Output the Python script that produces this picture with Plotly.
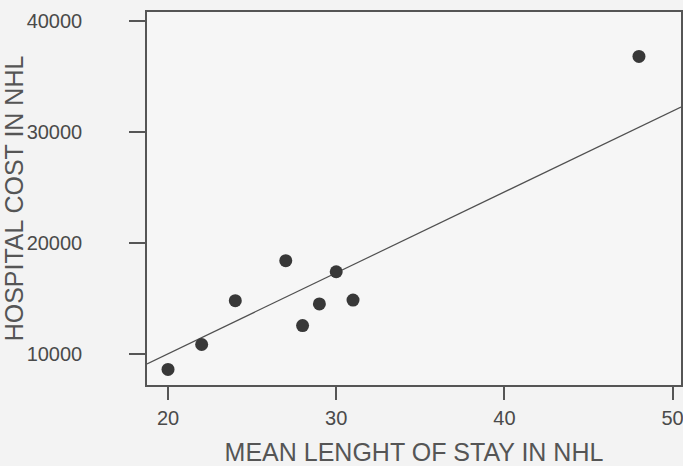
import plotly.graph_objects as go

# Data
stay_days = [20, 22, 24, 27, 28, 29, 30, 31, 48]
hospital_cost = [8600, 10850, 14800, 18400, 12550, 14500, 17400, 14850, 36800]

# Fitted regression line
line_intercept = -4569
line_slope = 729
x_range = [18.75, 50.5]
y_range = [7200, 40800]

x_ticks = [20, 30, 40, 50]
y_ticks = [10000, 20000, 30000, 40000]

fit_x = x_range
fit_y = [line_intercept + line_slope * v for v in fit_x]

font_family = "Liberation Sans, Arial, sans-serif"
ink = "#4a4a4a"

fig = go.Figure()
fig.add_trace(go.Scatter(
    x=fit_x, y=fit_y, mode="lines",
    line=dict(color="#505050", width=1.2),
    showlegend=False, hoverinfo="skip",
))
fig.add_trace(go.Scatter(
    x=stay_days, y=hospital_cost, mode="markers",
    marker=dict(symbol="circle", size=13, color="#383838"),
    showlegend=False,
))

fig.update_layout(
    width=683, height=466,
    margin=dict(l=147, r=2, t=12, b=81),
    paper_bgcolor="#f3f3f3",
    plot_bgcolor="#f6f6f6",
    font=dict(family=font_family, color=ink),
    xaxis=dict(
        range=x_range, tickvals=x_ticks, ticktext=[str(t) for t in x_ticks],
        automargin=False, ticklabeloverflow="allow",
        showgrid=False, zeroline=False,
        showline=True, mirror=True, linecolor="#555555", linewidth=1.5,
        ticks="outside", ticklen=13, tickcolor="#555555", tickwidth=1.5,
        tickfont=dict(size=20, color=ink), ticklabelstandoff=1,
        title=dict(text="MEAN LENGHT OF STAY IN NHL", font=dict(size=25, color="#555555"), standoff=19),
    ),
    yaxis=dict(
        range=y_range, tickvals=y_ticks, ticktext=[str(t) for t in y_ticks],
        automargin=False, ticklabeloverflow="allow",
        showgrid=False, zeroline=False,
        showline=True, mirror=True, linecolor="#555555", linewidth=1.5,
        ticks="outside", ticklen=16, tickcolor="#555555", tickwidth=1.5,
        tickfont=dict(size=20, color=ink), ticklabelstandoff=43,
        title=dict(text="HOSPITAL COST IN NHL", font=dict(size=25, color="#555555"), standoff=11),
    ),
)

fig.write_html("out.html")
